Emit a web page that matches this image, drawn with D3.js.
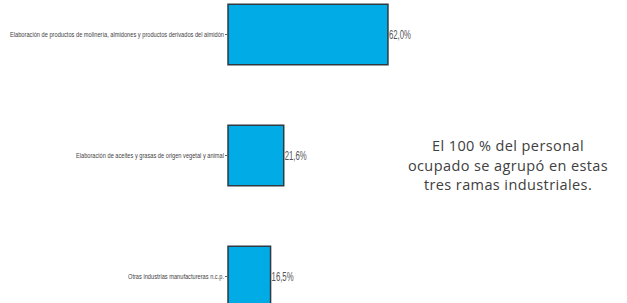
<!DOCTYPE html>
<html>
<head>
<meta charset="utf-8">
<script src="https://cdn.jsdelivr.net/npm/d3@7"></script>
<style>
  body { margin: 0; background: #fff; }
  svg { display: block; }
</style>
</head>
<body>
<div id="chart"></div>
<script>
// data
const ramas = [
  'Elaboración de productos de molinería, almidones y productos derivados del almidón',
  'Elaboración de aceites y grasas de origen vegetal y animal',
  'Otras industrias manufactureras n.c.p.'
];
const porcentajes = [62.0, 21.6, 16.5];
const nota = ['El 100 % del personal', 'ocupado se agrupó en estas', 'tres ramas industriales.'];

const width = 627, height = 303;
const left = 228;

const svg = d3.select('#chart').append('svg')
  .attr('width', width)
  .attr('height', height);

const data = ramas.map((r, i) => ({ rama: r, valor: porcentajes[i] }));

const x = d3.scaleLinear()
  .domain([0, 100])
  .range([left, left + 258]);

const y = d3.scaleBand()
  .domain(ramas)
  .range([-26, 337])
  .paddingInner(0.5)
  .paddingOuter(0.25);

svg.selectAll('.bar')
  .data(data)
  .enter()
  .append('rect')
  .classed('bar', true)
  .attr('x', x(0))
  .attr('y', d => y(d.rama))
  .attr('width', d => x(d.valor) - x(0))
  .attr('height', y.bandwidth())
  .style('fill', '#00abe6')
  .style('stroke', '#2f3a40')
  .style('stroke-width', 1.5);

const yAxis = d3.axisLeft(y).tickSize(3).tickPadding(1);
const gy = svg.append('g')
  .attr('transform', `translate(${x(0)},0)`)
  .call(yAxis);
gy.select('.domain').remove();
gy.selectAll('.tick line').attr('stroke', '#666');
gy.selectAll('text')
  .style('font-family', '"Liberation Sans Narrow", "Liberation Sans", Arial, sans-serif')
  .style('font-size', '7.5px')
  .attr('fill', '#444')
  .attr('textLength', (d, i) => [214, 148, 96][i])
  .attr('lengthAdjust', 'spacingAndGlyphs');

svg.selectAll('.val')
  .data(data)
  .enter()
  .append('text')
  .classed('val', true)
  .attr('x', d => x(d.valor) + 1)
  .attr('y', d => y(d.rama) + y.bandwidth() / 2)
  .attr('dy', '0.35em')
  .style('font-family', '"Liberation Sans Narrow", "Liberation Sans", Arial, sans-serif')
  .style('font-size', '12px')
  .attr('fill', '#555')
  .attr('textLength', 22)
  .attr('lengthAdjust', 'spacingAndGlyphs')
  .text(d => d3.format('.1f')(d.valor).replace('.', ',') + '%');

// nota, una linea por texto
svg.selectAll('.nota')
  .data(nota)
  .enter()
  .append('text')
  .classed('nota', true)
  .attr('x', 508)
  .attr('y', (d, i) => 151 + i * 19.7)
  .attr('text-anchor', 'middle')
  .style('font-family', '"Open Sans", "Noto Sans", sans-serif')
  .style('font-size', '14.5px')
  .style('letter-spacing', '0.4px')
  .attr('fill', '#404040')
  .text(d => d);
</script>
</body>
</html>
